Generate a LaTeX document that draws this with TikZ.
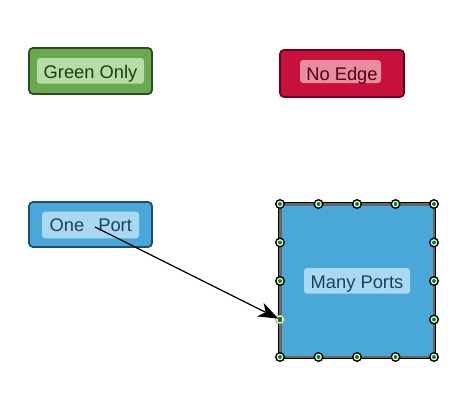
\documentclass[tikz,border=0pt]{standalone}
\usepackage{fontspec}
\setmainfont{Liberation Sans}
\usetikzlibrary{arrows.meta,calc}
\definecolor{gfill}{RGB}{106,168,79}
\definecolor{gline}{RGB}{40,80,30}
\definecolor{glab}{RGB}{184,220,165}
\definecolor{gtext}{RGB}{30,60,20}
\definecolor{rfill}{RGB}{200,16,60}
\definecolor{rline}{RGB}{110,0,30}
\definecolor{rlab}{RGB}{232,140,160}
\definecolor{rtext}{RGB}{80,0,20}
\definecolor{bfill}{RGB}{74,168,216}
\definecolor{bline}{RGB}{30,80,110}
\definecolor{blab}{RGB}{170,216,240}
\definecolor{btext}{RGB}{25,65,95}
\definecolor{portgreen}{RGB}{0,140,0}
\tikzset{
  boxnode/.style={draw, line width=1.8pt, rounded corners=4pt, inner sep=0pt},
  labnode/.style={rounded corners=3pt, inner sep=0pt},
  textnode/.style={anchor=base, inner sep=0pt, font=\fontsize{18.3}{21}\selectfont},
  portnode/.style={circle, draw=black, fill=white, line width=1.4pt, minimum size=8.5pt, inner sep=0pt},
}
\begin{document}
\begin{tikzpicture}[x=1pt,y=-1pt]
\useasboundingbox (0,0) rectangle (460,400);
% Green Only
\node[boxnode, draw=gline, fill=gfill, minimum width=123pt, minimum height=46pt] (green) at (90.5,71) {};
\node[labnode, fill=glab, minimum width=107pt, minimum height=25.7pt] (greenlab) at (90.5,70.85) {};
\node[textnode, text=gtext] (greentext) at (90.5,78.7) {Green Only};
% No Edge
\node[boxnode, draw=rline, fill=rfill, minimum width=124pt, minimum height=47pt] (red) at (342,73.5) {};
\node[labnode, fill=rlab, minimum width=81pt, minimum height=23pt] (redlab) at (340.5,71.5) {};
\node[textnode, text=rtext] (redtext) at (342,80.7) {No Edge};
% One Port
\node[boxnode, draw=bline, fill=bfill, minimum width=123pt, minimum height=45pt] (one) at (90.5,224.5) {};
\node[labnode, fill=blab, minimum width=97pt, minimum height=26.6pt] (onelab) at (90.5,225) {};
\node[textnode, text=btext] (onetext) at (90.8,231.7) {One\hspace{14pt}Port};
\coordinate (src) at (95,227);
% Many Ports
\node[draw=black!60, line width=3pt, fill=bfill, minimum width=154pt, minimum height=153pt, inner sep=0pt] (many) at (357,280.5) {};
\draw[black, line width=0.7pt] (many.north west) rectangle (many.south east);
\node[labnode, fill=blab, minimum width=106pt, minimum height=25.7pt] (manylab) at (357,280.85) {};
\node[textnode, text=btext] (manytext) at (357,288.7) {Many Ports};
% ports
\foreach \i/\x in {0/280,1/318.5,2/357,3/395.5,4/434}{
  \node[portnode] (pt\i) at (\x,204) {};
  \fill[portgreen] (pt\i) circle (2pt);
  \node[portnode] (pb\i) at (\x,357) {};
  \fill[portgreen] (pb\i) circle (2pt);
}
\foreach \i/\y in {1/242.5,2/281,3/319.5}{
  \node[portnode] (pr\i) at (434,\y) {};
  \fill[portgreen] (pr\i) circle (2pt);
}
\foreach \i/\y in {1/242.5,2/281}{
  \node[portnode] (pl\i) at (280,\y) {};
  \fill[portgreen] (pl\i) circle (2pt);
}
\node[circle, draw=black!40, fill=white, line width=0.8pt, minimum size=9pt, inner sep=0pt] (target) at (280,319.5) {};
\fill[portgreen] ($(target)+(-2.4,-2.4)$) rectangle ++(4.8,4.8);
% edge
\draw[line width=1.2pt, shorten >=2pt, -{Stealth[length=20pt,width=15pt,inset=6pt]}] (src) -- (target.center);
\end{tikzpicture}
\end{document}
